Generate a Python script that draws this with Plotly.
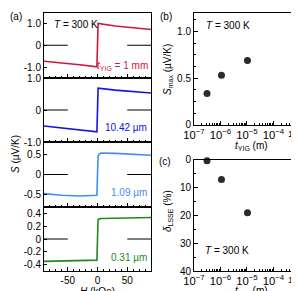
import plotly.graph_objects as go

# ---------------- data ----------------
H_kOe = [-90, -60, -30, -1, 0, 1, 30, 60, 90]
S_1mm = [-0.73, -0.80, -0.89, -0.99, 0.0, 1.00, 0.88, 0.79, 0.72]
S_10um = [-0.50, -0.56, -0.62, -0.68, 0.0, 0.68, 0.62, 0.57, 0.53]
H_fine = [-90, -60, -30, -10, -1, 0, 1, 3, 6, 30, 60, 90]
S_1um = [-0.47, -0.51, -0.53, -0.52, -0.51, 0.0, 0.45, 0.51, 0.53, 0.52, 0.50, 0.475]
S_031um = [-0.35, -0.345, -0.34, -0.335, -0.33, 0.0, 0.30, 0.315, 0.32, 0.325, 0.33, 0.335]

zero_x = [-90, -50, None, 50, 90]
zero_y = [0, 0, None, 0, 0]

t_yig = [3.1e-7, 1.09e-6, 1.042e-5, 1e-3]
S_max = [0.335, 0.53, 0.69, 0.99]
delta = [0.4, 7.1, 19.1, 24.8]

last_decade_label = "10<sup>-3</sup>"

labels = ["<i>t</i><sub>YIG</sub> = 1 mm", "10.42 µm", "1.09 µm", "0.31 µm"]
colors = ["#d2143c", "#1414dc", "#3f8ef2", "#1f8a1f"]

W, Hh = 299, 291
def px(x): return x / W
def py(y): return 1 - y / Hh

FONT = "Liberation Sans, Arial, Helvetica, sans-serif"

fig = go.Figure()

# panel (a) domains (top to bottom)
a_x = [px(36), px(143)]
a_y = [[py(70), py(4.5)], [py(134), py(70)], [py(199), py(134)], [py(263), py(199)]]
a_ranges = [[-1.5, 1.5], [-1.0, 1.0], [-0.8, 0.8], [-0.5, 0.5]]
a_ticks = [[-1, 0, 1], [-1, 0, 1], [-0.5, 0, 0.5], [-0.4, -0.2, 0, 0.2, 0.4]]
a_ticktext = [["-1.0", "0", "1.0"], ["-1.0", "0", "1.0"], ["-0.5", "0", "0.5"],
              ["-0.4", "-0.2", "0", "0.2", "0.4"]]
a_series = [(H_kOe, S_1mm), (H_kOe, S_10um), (H_fine, S_1um), (H_fine, S_031um)]

for i in range(4):
    n = i + 1
    xa = "x" if n == 1 else f"x{n}"
    ya = "y" if n == 1 else f"y{n}"
    fig.add_trace(go.Scatter(x=zero_x, y=zero_y, mode="lines",
                             line=dict(color="black", width=1),
                             xaxis=xa, yaxis=ya, showlegend=False, hoverinfo="skip"))
    hx, sy = a_series[i]
    fig.add_trace(go.Scatter(x=hx, y=sy, mode="lines",
                             line=dict(color=colors[i], width=1.6),
                             xaxis=xa, yaxis=ya, showlegend=False))
    key = "" if n == 1 else str(n)
    fig.layout["xaxis" + key] = dict(
        domain=a_x, range=[-90, 90], anchor=ya,
        showline=True, linecolor="black", linewidth=1, mirror=True,
        ticks="inside", ticklen=4, tickcolor="black", tickwidth=1,
        tickvals=[-50, 0, 50], ticktext=["-50", "0", "50"],
        showticklabels=(n == 4), showgrid=False, zeroline=False,
        minor=dict(ticks="inside", ticklen=2, dtick=10, tickcolor="black", showgrid=False),
        tickfont=dict(size=10, family=FONT, color="black"),
    )
    fig.layout["yaxis" + key] = dict(
        domain=a_y[i], range=a_ranges[i], anchor=xa,
        showline=True, linecolor="black", linewidth=1, mirror=True,
        ticks="inside", ticklen=3, tickcolor="black",
        tickvals=a_ticks[i], ticktext=a_ticktext[i],
        showgrid=False, zeroline=False,
        tickfont=dict(size=10, family=FONT, color="black"),
    )

# panel (b)
fig.add_trace(go.Scatter(x=t_yig, y=S_max, mode="markers",
                         marker=dict(size=7, color="#2b2b2b"), cliponaxis=False,
                         xaxis="x5", yaxis="y5", showlegend=False))
# panel (c)
fig.add_trace(go.Scatter(x=t_yig, y=delta, mode="markers",
                         marker=dict(size=7, color="#2b2b2b"), cliponaxis=False,
                         xaxis="x6", yaxis="y6", showlegend=False))

bc_x = [px(186), px(292)]
logx = dict(type="log", range=[-7, -2.999], dtick=1, exponentformat="power",
            showline=True, linecolor="black", linewidth=1, mirror=True,
            ticks="inside", ticklen=4, tickcolor="black", showgrid=False, zeroline=False,
            minor=dict(ticks="inside", ticklen=2, tickcolor="black", showgrid=False),
            tickfont=dict(size=9, family=FONT, color="black"))
fig.layout.xaxis5 = dict(domain=bc_x, anchor="y5", **logx)
fig.layout.xaxis6 = dict(domain=bc_x, anchor="y6", **logx)
fig.layout.yaxis5 = dict(domain=[py(116.7), py(5)], range=[0, 1.2], anchor="x5",
                         tickvals=[0, 0.5, 1.0], ticktext=["0", "0.5", "1.0"],
                         showline=True, linecolor="black", linewidth=1, mirror=True,
                         ticks="inside", ticklen=4, tickcolor="black",
                         minor=dict(ticks="inside", ticklen=2, dtick=0.125, tickcolor="black", showgrid=False),
                         showgrid=False, zeroline=False,
                         tickfont=dict(size=10, family=FONT, color="black"))
fig.layout.yaxis6 = dict(domain=[py(263), py(151.7)], range=[40, 0], anchor="x6",
                         tickvals=[0, 10, 20, 30, 40],
                         showline=True, linecolor="black", linewidth=1, mirror=True,
                         ticks="inside", ticklen=4, tickcolor="black",
                         minor=dict(ticks="inside", ticklen=2, dtick=5, tickcolor="black", showgrid=False),
                         showgrid=False, zeroline=False,
                         tickfont=dict(size=10, family=FONT, color="black"))

ann = []
def txt(x, y, s, size=10, color="black", xanchor="left", angle=0):
    ann.append(dict(x=px(x), y=py(y), xref="paper", yref="paper", text=s,
                    showarrow=False, xanchor=xanchor, yanchor="middle", textangle=angle,
                    font=dict(size=size, family=FONT, color=color)))

# last decade label of (b) and (c), kept inside the page at the right edge
for yr, yv in (("y5", 0), ("y6", 40)):
    ann.append(dict(x=px(297), y=yv, xref="paper", yref=yr, text=last_decade_label,
                    showarrow=False, xanchor="right", yanchor="top", yshift=-1,
                    borderpad=0, font=dict(size=9, family=FONT, color="black")))

txt(0, 8, "(a)")
txt(150, 8, "(b)")
txt(149, 153, "(c)")
txt(44, 16, "<i>T</i> = 300 K")
txt(142, 58, labels[0], color=colors[0], xanchor="right")
txt(141, 119, labels[1], color=colors[1], xanchor="right")
txt(141, 184, labels[2], color=colors[2], xanchor="right")
txt(141, 249, labels[3], color=colors[3], xanchor="right")
txt(196, 17, "<i>T</i> = 300 K")
txt(195, 242, "<i>T</i> = 300 K")
txt(7, 146, "<i>S</i> (µV/K)", angle=-90, xanchor="center")
txt(89, 283, "<i>H</i> (kOe)", xanchor="center")
txt(160, 62, "<i>S</i><sub>max</sub> (µV/K)", angle=-90, xanchor="center")
txt(160, 203, "<i>δ</i><sub>LSSE</sub> (%)", angle=-90, xanchor="center")
txt(243, 138, "<i>t</i><sub>YIG</sub> (m)", xanchor="center")
txt(243, 283, "<i>t</i><sub>YIG</sub> (m)", xanchor="center")

fig.update_layout(width=W, height=Hh, autosize=False,
                  margin=dict(l=0, r=0, t=0, b=0, autoexpand=False),
                  paper_bgcolor="white", plot_bgcolor="white",
                  annotations=ann, font=dict(family=FONT, size=10, color="black"))

fig.write_html("out.html", config={"responsive": False, "displayModeBar": False})
